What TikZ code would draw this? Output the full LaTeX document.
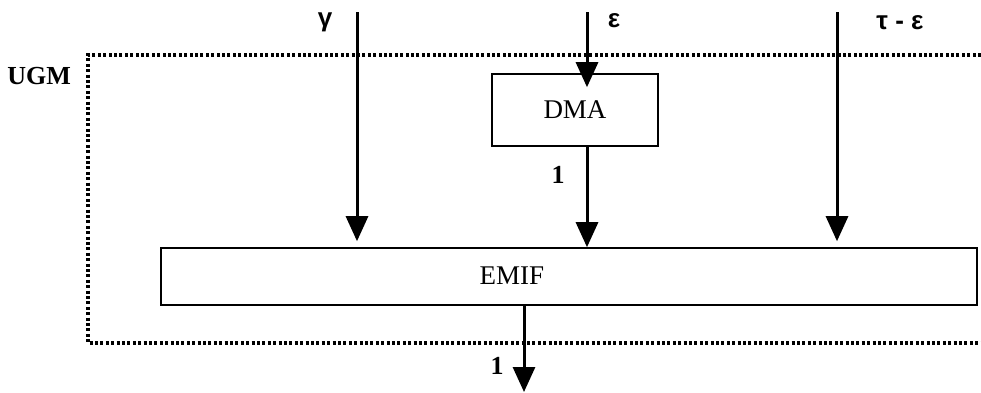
\documentclass[tikz,border=0pt]{standalone}
\usepackage{fontspec}
\setmainfont{Liberation Serif}
\newfontfamily\greekfont{Liberation Sans}
\usetikzlibrary{positioning,arrows.meta}

\begin{document}
\begin{tikzpicture}[x=0.5pt, y=-0.5pt,
  block/.style={draw, line width=0.8pt, inner sep=0pt, font=\fontsize{13.5}{15}\selectfont},
  flow/.style={-{Triangle[length=12.5pt, width=11pt]}, line width=1.5pt},
  tag/.style={font=\fontsize{13}{14}\selectfont\bfseries},
  sym/.style={font=\greekfont\fontsize{13}{15}\selectfont\bfseries},
  frame/.style={line width=1.6pt, dash pattern=on 1.5pt off 1.2pt}
]
  \useasboundingbox (0,0) rectangle (981,392);

  % UGM frame, open on the right
  \draw[frame] (981,55) -- (88,55) -- (88,343) -- (981,343);
  \node[tag, anchor=east] (ugm) at (78,76) {UGM};

  % blocks
  \node[block, minimum width=83pt, minimum height=36pt] (dma) at (575,110) {DMA};
  \node[block, minimum width=408pt, minimum height=28.5pt] (emif) at (569,276.5) {};
  \node[font=\fontsize{13.5}{15}\selectfont] (emiftext) at (512,276) {EMIF};

  % inputs and output
  \coordinate (gin) at (357,12);
  \coordinate (ein) at (587,12);
  \coordinate (tin) at (837,12);
  \coordinate (out) at (524,392);

  \draw[flow, shorten >=3pt] (gin) -- (gin |- emif.north);
  \draw[flow, shorten >=-7pt] (ein) -- (ein |- dma.north);
  \draw[flow, shorten >=3pt] (tin) -- (tin |- emif.north);
  \draw[flow] (ein |- dma.south) -- (ein |- emif.north);
  \draw[flow] (out |- emif.south) -- (out);

  % labels
  \node[sym] (glabel) at (325,22) {γ};
  \node[sym] (elabel) at (614,21) {ε};
  \node[sym] (tlabel) at (900,23) {τ - ε};
  \node[tag] (dmaout) at (558,175) {1};
  \node[tag] (emifout) at (497,366) {1};
\end{tikzpicture}
\end{document}
